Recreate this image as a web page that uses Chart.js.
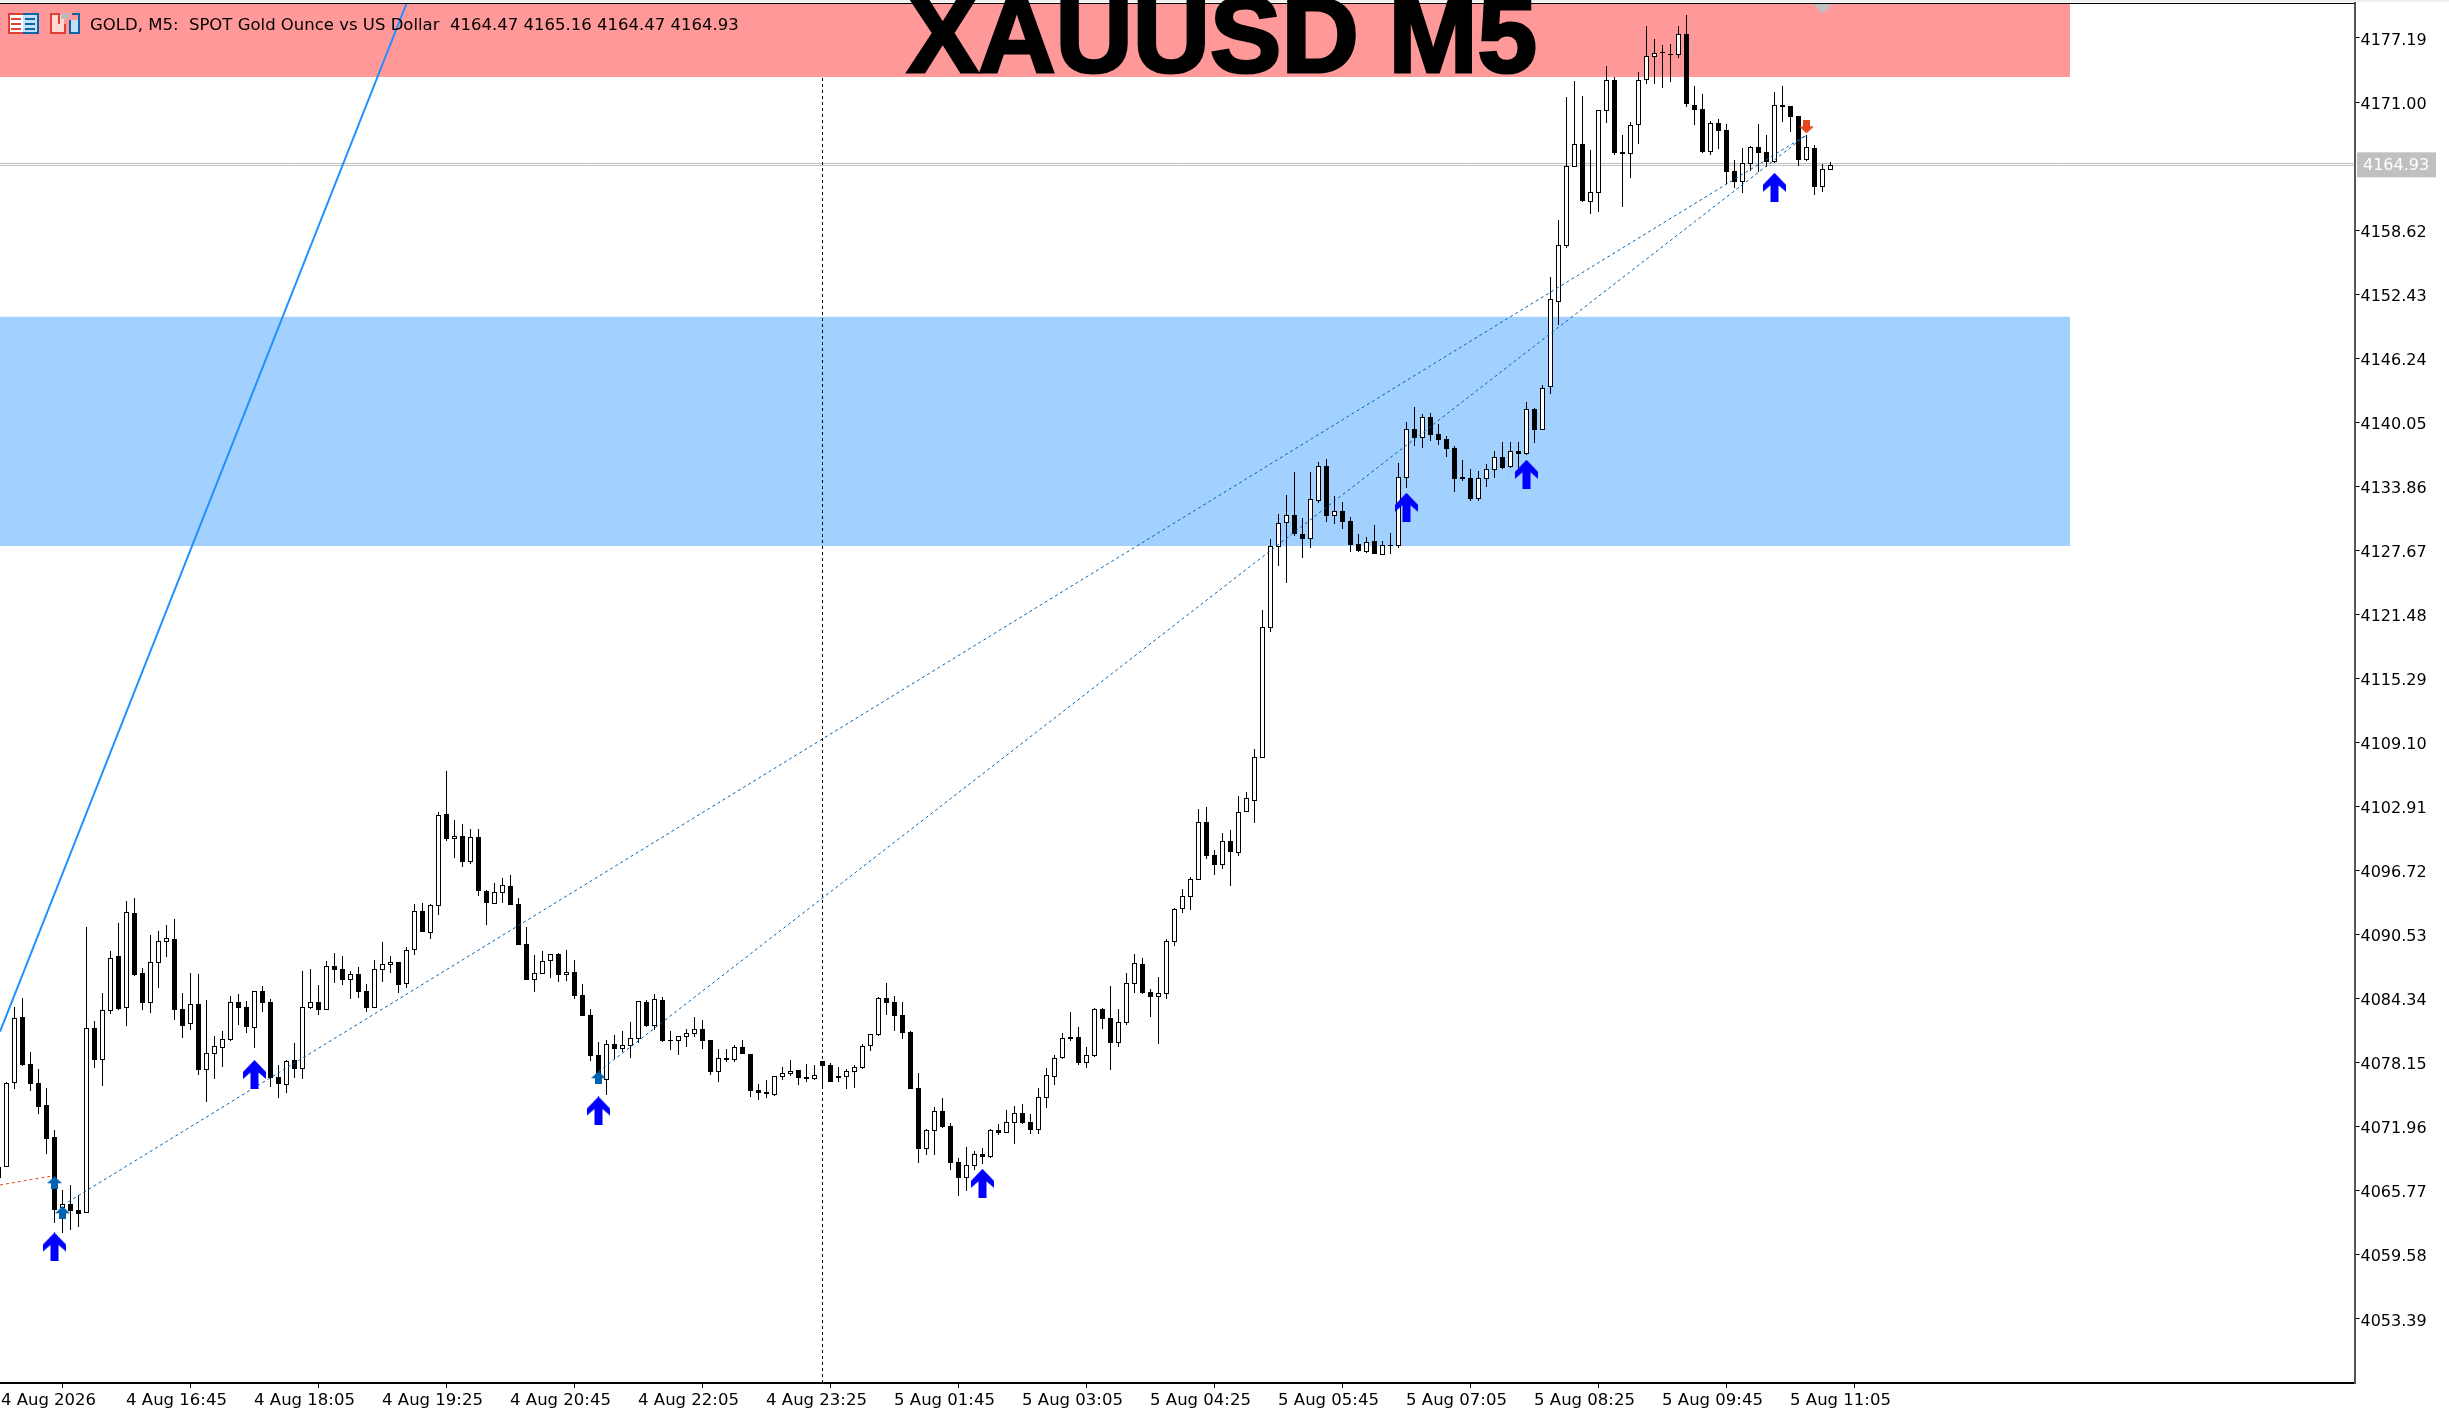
<!DOCTYPE html>
<html><head><meta charset="utf-8">
<style>html,body{margin:0;padding:0;background:#fff}canvas{display:block}</style>
<script src="https://cdn.jsdelivr.net/npm/chart.js@4"></script>
</head><body><canvas id="c" width="2449" height="1413" style="width:2449px;height:1413px"></canvas>
<script>
const firstBar = -1;
const opens = [4068.10,
4068.04,4076.16,4082.54,4078.03,4076.19,4074.06,4070.97,4064.08,4064.49,4063.92,
4063.59,4081.47,4078.45,4083.18,4088.43,4083.41,4092.62,4086.82,4083.95,4087.82,
4089.85,4090.11,4083.31,4081.92,4083.83,4077.48,4079.02,4079.60,4080.38,4084.02,
4083.54,4081.54,4085.08,4084.02,4076.77,4076.03,4078.41,4077.58,4083.47,4084.02,
4083.28,4087.50,4087.21,4086.18,4086.72,4085.08,4083.47,4087.14,4087.63,4087.88,
4085.79,4089.01,4092.78,4090.72,4093.33,4102.19,4099.81,4100.06,4097.58,4099.97,
4094.75,4093.52,4094.59,4095.23,4093.49,4089.63,4086.18,4086.76,4088.02,4088.66,
4086.66,4086.92,4084.70,4082.76,4078.90,4076.48,4079.96,4079.51,4079.80,4080.48,
4084.02,4081.73,4084.21,4080.32,4080.28,4080.67,4080.96,4081.41,4080.35,4077.29,
4078.58,4078.45,4079.67,4078.99,4075.52,4075.32,4075.06,4076.80,4077.06,4077.42,
4076.77,4076.61,4078.32,4077.90,4076.87,4076.80,4077.28,4077.64,4079.80,4080.83,
4084.40,4084.02,4082.76,4081.12,4075.71,4069.81,4071.58,4073.48,4072.03,4068.55,
4067.04,4068.20,4069.33,4069.04,4071.65,4071.39,4072.36,4073.29,4072.42,4071.68,
4074.77,4076.80,4078.61,4080.63,4080.63,4078.15,4078.83,4083.34,4082.47,4080.09,
4082.02,4085.79,4087.69,4084.98,4084.53,4084.82,4089.85,4092.97,4094.20,4095.84,
4101.41,4098.22,4097.29,4099.58,4098.45,4102.35,4103.48,4107.63,4120.20,4128.03,
4130.28,4131.09,4129.25,4128.80,4132.47,4135.82,4131.02,4131.47,4130.51,4128.28,
4127.51,4128.57,4127.25,4128.19,4128.12,4134.69,4139.40,4138.56,4140.56,4138.91,
4138.43,4137.56,4134.76,4134.66,4132.63,4134.60,4135.47,4136.69,4135.72,4137.27,
4137.01,4141.33,4139.33,4143.49,4151.70,4157.12,4164.75,4166.91,4161.37,4162.17,
4170.16,4173.13,4166.17,4166.01,4168.81,4173.16,4175.38,4175.83,4175.64,4175.58,
4177.57,4170.71,4170.33,4166.20,4168.97,4168.30,4164.33,4163.30,4165.04,4166.65,
4166.17,4165.20,4170.71,4170.61,4169.65,4165.40,4166.56,4162.75,4164.47];
const highs = [4068.10,
4076.29,4083.54,4084.41,4079.15,4077.51,4075.67,4071.61,4065.85,4066.33,4065.36,
4091.27,4082.18,4084.89,4088.95,4091.65,4093.78,4094.07,4087.30,4090.49,4090.88,
4091.46,4092.04,4084.89,4086.82,4086.72,4084.21,4080.73,4081.22,4084.60,4084.79,
4084.12,4085.05,4085.56,4084.31,4077.93,4078.41,4080.06,4087.01,4087.21,4085.66,
4087.98,4088.75,4088.46,4087.01,4087.40,4085.76,4088.08,4089.82,4088.46,4087.88,
4089.34,4093.49,4093.59,4093.49,4102.38,4106.35,4101.61,4101.22,4100.74,4100.74,
4094.85,4095.52,4096.01,4096.30,4094.07,4091.27,4088.56,4088.95,4088.66,4088.76,
4089.05,4088.08,4085.76,4083.34,4080.15,4080.35,4080.83,4081.22,4082.09,4084.12,
4084.21,4084.79,4084.50,4081.22,4080.70,4081.41,4082.57,4082.28,4080.35,4079.48,
4079.48,4079.86,4080.35,4078.99,4076.09,4076.48,4076.84,4077.74,4078.41,4077.45,
4078.03,4077.93,4078.32,4078.12,4077.74,4077.54,4077.93,4079.96,4080.89,4084.50,
4085.85,4084.60,4084.02,4081.21,4077.16,4071.74,4073.87,4074.74,4072.32,4068.94,
4070.00,4069.62,4069.91,4071.74,4072.23,4073.58,4073.97,4074.16,4073.19,4075.71,
4077.64,4078.90,4081.02,4083.05,4081.60,4079.67,4083.41,4083.44,4085.56,4083.34,
4086.82,4088.66,4088.27,4085.27,4086.43,4090.07,4093.07,4094.94,4096.07,4102.67,
4102.86,4098.71,4100.35,4100.64,4103.93,4104.31,4108.44,4121.87,4128.73,4131.18,
4133.02,4135.24,4130.80,4135.24,4136.21,4136.50,4132.92,4132.34,4130.89,4129.25,
4128.96,4130.12,4128.57,4129.35,4136.11,4140.07,4141.52,4140.85,4140.94,4139.88,
4138.72,4137.75,4136.40,4135.53,4135.34,4136.01,4137.27,4138.14,4138.14,4138.14,
4142.01,4141.39,4143.65,4154.12,4159.60,4171.48,4173.03,4171.58,4166.36,4170.20,
4174.48,4173.42,4167.81,4169.07,4173.90,4178.35,4177.09,4176.51,4176.61,4178.35,
4179.41,4172.55,4171.77,4169.17,4169.36,4168.88,4165.40,4166.56,4166.75,4168.88,
4167.81,4171.97,4172.55,4170.61,4169.65,4167.81,4166.85,4165.01,4165.16];
const lows = [4066.98,
4068.04,4075.61,4077.83,4075.45,4073.19,4069.33,4062.63,4061.72,4061.98,4062.30,
4063.59,4077.64,4075.90,4082.86,4083.25,4081.70,4086.53,4083.25,4082.96,4085.37,
4088.37,4082.28,4080.54,4081.31,4076.96,4074.35,4076.58,4077.74,4080.25,4081.80,
4081.02,4079.57,4083.05,4075.77,4074.74,4075.22,4076.67,4076.58,4083.34,4082.76,
4083.25,4085.85,4085.66,4084.31,4084.41,4083.05,4083.44,4085.95,4086.82,4084.89,
4085.37,4088.56,4090.79,4090.11,4092.43,4099.58,4097.94,4097.07,4097.36,4094.27,
4091.46,4093.49,4093.59,4093.36,4089.53,4086.15,4084.99,4086.73,4086.34,4085.95,
4086.05,4084.31,4082.67,4078.32,4076.80,4075.03,4078.51,4079.19,4078.61,4080.06,
4081.60,4081.31,4080.15,4079.38,4078.90,4079.67,4080.64,4079.48,4076.96,4076.29,
4078.22,4078.22,4078.99,4074.84,4074.55,4074.74,4074.94,4076.48,4076.87,4076.00,
4076.29,4076.48,4075.90,4076.29,4076.29,4075.61,4075.71,4077.54,4079.28,4080.73,
4082.76,4081.21,4080.44,4075.61,4068.46,4069.23,4069.23,4071.84,4067.78,4065.27,
4065.75,4067.78,4068.36,4068.94,4071.16,4071.36,4070.29,4072.23,4071.26,4071.26,
4073.77,4076.00,4078.51,4080.25,4077.93,4077.64,4078.70,4081.41,4077.45,4079.67,
4081.79,4084.89,4084.79,4082.57,4079.96,4084.31,4089.43,4092.62,4092.91,4095.84,
4097.84,4096.29,4096.87,4095.23,4098.13,4102.35,4101.32,4107.63,4119.78,4126.16,
4124.51,4129.06,4126.93,4127.90,4132.24,4130.41,4130.22,4129.73,4127.51,4127.51,
4127.41,4127.32,4127.22,4127.32,4127.90,4133.69,4137.75,4137.56,4138.24,4137.85,
4136.69,4133.31,4134.37,4132.44,4132.44,4133.79,4134.66,4135.53,4135.63,4135.60,
4136.88,4138.04,4139.30,4142.75,4149.45,4156.89,4164.75,4161.34,4160.18,4160.37,
4168.97,4165.88,4160.85,4163.66,4166.94,4172.74,4172.74,4172.35,4172.93,4175.25,
4170.52,4168.78,4166.07,4165.88,4166.46,4163.08,4162.69,4162.21,4164.33,4164.24,
4164.72,4165.11,4169.07,4168.10,4164.82,4165.30,4162.01,4162.30,4164.47];
const closes = [4066.98,
4076.16,4082.44,4077.93,4076.13,4073.90,4070.81,4063.92,4064.49,4063.82,4063.53,
4081.47,4078.41,4083.21,4088.24,4083.34,4092.68,4086.63,4083.95,4087.85,4089.88,
4090.17,4083.25,4081.70,4083.79,4077.45,4079.06,4079.73,4080.41,4083.99,4083.44,
4081.60,4085.05,4083.92,4076.67,4076.09,4078.28,4077.54,4083.50,4083.99,4083.25,
4087.47,4087.11,4086.14,4086.69,4084.99,4083.44,4087.18,4087.69,4087.85,4085.66,
4089.01,4092.78,4090.79,4093.36,4102.06,4099.77,4100.03,4097.55,4099.94,4094.75,
4093.59,4094.62,4095.30,4093.36,4089.53,4086.15,4086.79,4087.95,4088.63,4086.63,
4086.89,4084.60,4082.67,4078.80,4076.96,4079.93,4079.48,4079.83,4080.51,4084.08,
4081.70,4084.28,4080.25,4080.25,4080.70,4080.99,4081.38,4080.25,4077.25,4078.58,
4078.38,4079.64,4078.99,4075.42,4075.23,4075.16,4076.84,4077.13,4077.32,4076.67,
4076.61,4076.93,4077.83,4076.29,4076.67,4077.32,4077.70,4079.73,4080.89,4084.37,
4083.92,4082.66,4081.02,4075.61,4069.81,4071.61,4073.45,4071.94,4068.46,4067.01,
4068.23,4069.29,4069.04,4071.61,4071.36,4072.39,4073.26,4072.32,4071.65,4074.80,
4076.93,4078.57,4080.51,4080.44,4078.12,4078.86,4083.31,4082.37,4080.05,4082.05,
4085.82,4087.75,4084.89,4084.50,4084.86,4089.88,4092.97,4094.23,4095.87,4101.38,
4098.13,4097.26,4099.55,4098.51,4102.35,4103.73,4107.66,4120.23,4128.06,4130.28,
4131.05,4129.25,4128.77,4132.60,4135.82,4130.99,4131.44,4130.41,4128.19,4127.61,
4128.44,4127.32,4128.15,4128.12,4134.73,4139.36,4138.53,4140.52,4138.82,4138.33,
4137.46,4134.56,4134.56,4132.63,4134.63,4135.50,4136.66,4135.63,4137.24,4136.98,
4141.30,4139.30,4143.36,4151.96,4157.15,4164.78,4166.91,4161.43,4162.27,4170.20,
4173.10,4166.07,4166.01,4168.75,4173.10,4175.42,4175.71,4175.77,4175.58,4177.54,
4170.81,4170.23,4166.17,4168.94,4168.20,4164.24,4163.27,4165.07,4166.65,4166.07,
4165.20,4170.68,4170.55,4169.55,4165.40,4166.65,4162.79,4164.49,4164.93];

const yTickValues = [4177.19,4171.00,4158.62,4152.43,4146.24,4140.05,4133.86,4127.67,4121.48,4115.29,4109.10,4102.91,4096.72,4090.53,4084.34,4078.15,4071.96,4065.77,4059.58,4053.39];
const xTickBars = [-1,15,31,47,63,79,95,111,127,143,159,175,191,207,223];
const xTickLabels = ['4 Aug 2026','4 Aug 16:45','4 Aug 18:05','4 Aug 19:25','4 Aug 20:45','4 Aug 22:05','4 Aug 23:25','5 Aug 01:45','5 Aug 03:05','5 Aug 04:25','5 Aug 05:45','5 Aug 07:05','5 Aug 08:25','5 Aug 09:45','5 Aug 11:05'];

const bigArrowBars = [6,31,74,122,175,190,221];
const bigArrowPrices = [4060.34,4077.01,4073.48,4066.49,4131.83,4135.02,4162.76];
const smallUpBars = [6,7,74];
const smallUpPrices = [4066.54,4063.64,4076.69];
const smallDownBars = [225];
const smallDownPrices = [4168.60];

const priceMax = 4180.57, priceMin = 4047.19;
const barMin = -0.8125, barMax = 293.5;
const supplyBand = [4180.57,4173.42];
const demandBand = [4150.25,4128.09];
const bandEndBar = 257.94;
const solidTrend = [[-0.8125,4081.15],[50.03,4180.57]];
const dotTrendA = [[7.7,4064.69],[225,4167.81]];
const dotTrendB = [[74,4077.28],[225,4167.81]];
const dotTrendRed = [[-0.8125,4066.33],[5.65,4067.20]];
const cursorBar = 102;
const bidAskLines = [4165.06,4164.87];
const headerText = 'GOLD, M5:  SPOT Gold Ounce vs US Dollar  4164.47 4165.16 4164.47 4164.93';
const titleText = 'XAUUSD M5';

function sprite(w,h,color,pts){
  const c=document.createElement('canvas');c.width=w;c.height=h;
  const g=c.getContext('2d');g.fillStyle=color;g.beginPath();
  pts.forEach((p,i)=>i?g.lineTo(p[0],p[1]):g.moveTo(p[0],p[1]));g.closePath();g.fill();
  return c;
}
const bigArrow = sprite(23,29,'#0000FF',[[11.5,0],[23,12],[23,19],[15.5,12.5],[15.5,29],[7.5,29],[7.5,12.5],[0,19],[0,12]]);
const smallUp = sprite(15,13,'#0063B1',[[7.5,0],[15,7],[11,7],[11,13],[4,13],[4,7],[0,7]]);
const smallDown = sprite(15,13,'#E2491F',[[7.5,13],[15,6],[11,6],[11,0],[4,0],[4,6],[0,6]]);
const shiftMark = sprite(19,10,'#C0C0C0',[[0,0],[19,0],[9.5,10]]);

const barX = i => i + firstBar;
const wickData = highs.map((h,i)=>({x:barX(i),y:[lows[i],h]}));
const bodyData = opens.map((o,i)=>({x:barX(i),y:[Math.min(o,closes[i]),Math.max(o,closes[i])]}));
const bodyFill = opens.map((o,i)=>closes[i]>=o?'#FFFFFF':'#000000');
const pts = a => a.map(p=>({x:p[0],y:p[1]}));
const zip = (xs,ys) => xs.map((x,i)=>({x,y:ys[i]}));
const lineDs = (data,color,width,dash,order) => ({type:'line',data,borderColor:color,borderWidth:width,borderDash:dash,pointRadius:0,fill:false,tension:0,order});
const bandDs = (b,color) => ({type:'line',data:[{x:barMin,y:b[0]},{x:bandEndBar,y:b[0]}],fill:{target:{value:b[1]}},backgroundColor:color,borderWidth:0,pointRadius:0,order:9});
const markDs = (data,style,order) => ({type:'line',showLine:false,data,pointStyle:style,pointRadius:8,order});

const snapBars = {id:'snapBars',afterDatasetsUpdate(chart){
  chart.getSortedVisibleDatasetMetas().forEach(m=>{
    if(m.type!=='bar')return;
    m.data.forEach(el=>{
      const t=Math.round(el.y);let b=Math.round(el.base);
      if(b-t<1)b=t+1;
      el.y=t;el.base=b;
      el.x=Math.round(el.x-0.5)+0.5;
    });
  });
}};
const frame = {id:'frame',
  beforeDatasetsDraw(chart){
    const g=chart.ctx;g.save();g.fillStyle='#F0F0F0';g.fillRect(0,0,2449,2);g.restore();
  },
  afterDraw(chart){
    const g=chart.ctx,a=chart.chartArea,y=chart.scales.y;
    g.save();
    g.fillStyle='#000';g.fillRect(0,3,a.right,1);
    // title
    g.save();g.beginPath();g.rect(0,0,a.right,a.bottom);g.clip();
    g.font='bold 107px "Liberation Sans"';g.textAlign='center';g.textBaseline='alphabetic';g.fillStyle='#000';g.strokeStyle='#000';g.lineWidth=3;
    g.fillText(titleText,1222,72);g.strokeText(titleText,1222,72);g.restore();
    // header icons
    g.fillStyle='#FFF';g.fillRect(9,14,29,20);
    g.fillStyle='#DF3F36';g.fillRect(8,13,15,2);g.fillRect(8,32,15,2);g.fillRect(8,13,2,21);
    g.fillRect(11,18,10,2);g.fillRect(11,23,10,2);g.fillRect(11,28,10,2);
    g.fillStyle='#BFE0F7';g.fillRect(23,15,14,17);
    g.fillStyle='#0B63A8';g.fillRect(23,13,16,2);g.fillRect(23,32,16,2);g.fillRect(37,13,2,21);
    g.fillRect(25,18,10,2);g.fillRect(25,23,10,2);g.fillRect(25,28,10,2);
    g.fillStyle='#FFD9CF';g.fillRect(52,15,12,17);g.fillStyle='#DF3F36';
    g.fillRect(50,13,2,21);g.fillRect(50,13,10,2);g.fillRect(50,32,16,2);g.fillRect(64,24,2,10);g.fillRect(58,13,2,11);
    g.fillStyle='#BBB';g.fillRect(61,13,8,6);
    g.fillStyle='#BFE0F7';g.fillRect(70,20,8,12);g.fillStyle='#0B63A8';
    g.fillRect(69,20,2,14);g.fillRect(69,32,11,2);g.fillRect(78,13,2,21);g.fillRect(72,13,7,2);
    // header text
    g.font='16.5px "DejaVu Sans"';g.textAlign='left';g.textBaseline='middle';g.fillStyle='#000';
    g.fillText(headerText,90,26,656);
    // last price tag
    const last=closes[closes.length-1],py=y.getPixelForValue(last);
    g.fillStyle='#C0C0C0';g.fillRect(2357,py-12.5,79,25);
    g.font='16px "DejaVu Sans"';g.fillStyle='#FFF';g.textAlign='left';g.fillText(last.toFixed(2),2363,py+1);
    g.restore();
  }};

new Chart(document.getElementById('c'),{
  type:'bar',
  data:{datasets:[
    bandDs(supplyBand,'#FF9999'),
    bandDs(demandBand,'#A3D1FF'),
    lineDs(pts([[barMin,bidAskLines[0]],[barMax,bidAskLines[0]]]),'#C0C0C0',1,[],8),
    lineDs(pts([[barMin,bidAskLines[1]],[barMax,bidAskLines[1]]]),'#C0C0C0',1,[],8),
    lineDs(pts([[cursorBar,priceMin],[cursorBar,supplyBand[1]]]),'#000000',1,[3,3],7),
    {type:'bar',data:wickData,backgroundColor:'#000',barThickness:1,grouped:false,inflateAmount:0,borderWidth:0,order:6},
    {type:'bar',data:bodyData,backgroundColor:bodyFill,borderColor:'#000',borderWidth:1,borderSkipped:false,barThickness:5,grouped:false,inflateAmount:0,order:5},
    lineDs(pts(solidTrend),'#1E90FF',2,[],4),
    lineDs(pts(dotTrendA),'#0063B1',1,[3,3],3),
    lineDs(pts(dotTrendB),'#0063B1',1,[3,3],3),
    lineDs(pts(dotTrendRed),'#E2491F',1,[3,3],3),
    markDs(zip(smallUpBars,smallUpPrices),smallUp,2),
    markDs(zip(smallDownBars,smallDownPrices),smallDown,2),
    markDs([{x:227.03,y:4180.0}],shiftMark,2),
    markDs(zip(bigArrowBars,bigArrowPrices),bigArrow,1)
  ]},
  plugins:[snapBars,frame],
  options:{
    responsive:false,animation:false,devicePixelRatio:1,
    layout:{autoPadding:false,padding:{top:3,left:0,right:0,bottom:0}},
    plugins:{legend:{display:false},tooltip:{enabled:false},title:{display:false}},
    scales:{
      x:{type:'linear',min:barMin,max:barMax,offset:false,
        afterBuildTicks(s){s.ticks=xTickBars.map(v=>({value:v}));},
        afterFit(s){s.height=30;s.paddingLeft=0;s.paddingRight=0;},
        grid:{drawOnChartArea:false,drawTicks:true,tickLength:5,color:'#000'},
        border:{display:true,color:'#000',width:2},
        ticks:{autoSkip:false,maxRotation:0,minRotation:0,padding:3,labelOffset:50,color:'#000',
          font:{family:'"DejaVu Sans"',size:16.5},callback:(v,i)=>xTickLabels[i]}},
      y:{position:'right',min:priceMin,max:priceMax,
        afterBuildTicks(s){s.ticks=yTickValues.map(v=>({value:v}));},
        afterFit(s){s.width=94.5;s.paddingTop=0;s.paddingBottom=0;},
        grid:{drawOnChartArea:false,drawTicks:true,tickLength:5,color:'#000'},
        border:{display:true,color:'#555',width:2},
        ticks:{autoSkip:false,padding:1,labelOffset:2.5,color:'#000',font:{family:'"DejaVu Sans"',size:16},callback:v=>v.toFixed(2)}}
    }
  }
});
</script></body></html>
